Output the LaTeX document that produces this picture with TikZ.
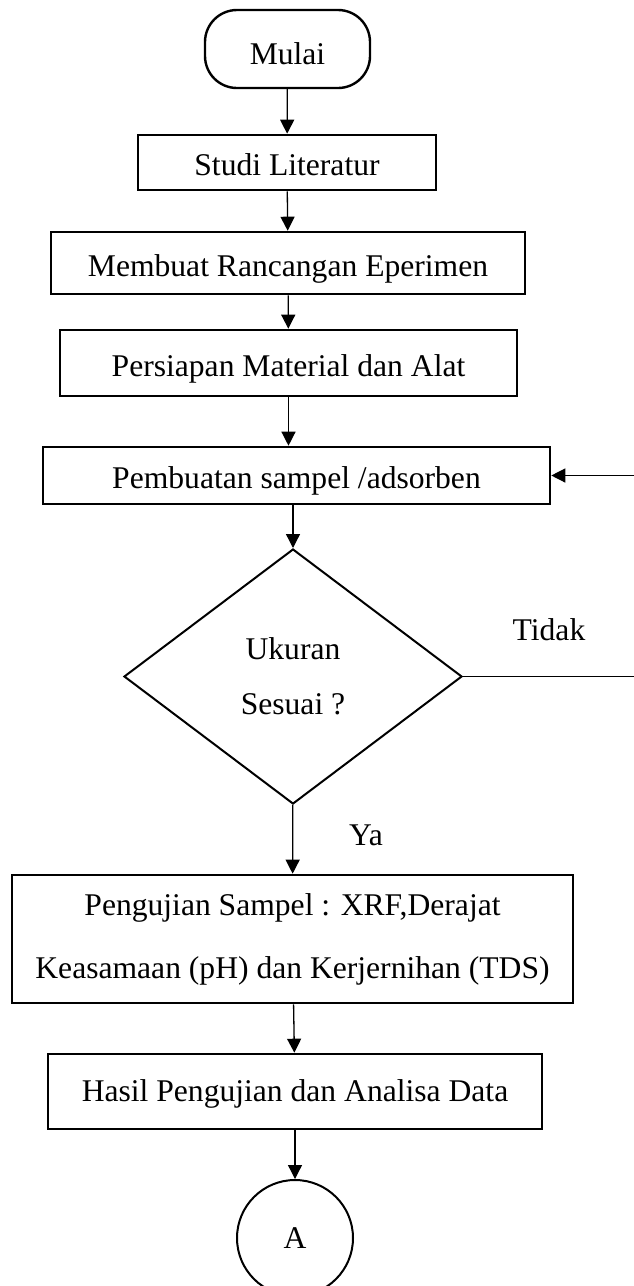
\documentclass[tikz,border=0pt]{standalone}
\usepackage{fontspec}
\setmainfont{Liberation Serif}
\usetikzlibrary{arrows.meta,shapes.geometric}

\begin{document}
\begin{tikzpicture}
[x=1pt, y=-1pt, font=\fontsize{31.6}{40}\selectfont,
 proses/.style={draw, line width=2.6pt, inner sep=0pt, text height=26pt, text depth=0pt},
 panah/.style={-{Triangle[length=14pt,width=14pt]}, line width=1.3pt}]
  \useasboundingbox (0,0) rectangle (634,1286);
  \node[proses, line width=2.4pt, rounded corners=32pt, minimum width=165pt, minimum height=78pt, text height=30pt] (mulai) at (287.5,49) {Mulai}; % start
  \node[proses, minimum width=298pt, minimum height=55pt] (studi) at (287,162.5) {Studi Literatur};
  \node[proses, minimum width=474pt, minimum height=62pt] (membuat) at (288,263) {Membuat Rancangan Eperimen};
  \node[proses, minimum width=457pt, minimum height=66pt] (persiapan) at (288.5,363) {Persiapan Material dan Alat};
  \node[proses, minimum width=507pt, minimum height=57pt] (pembuatan) at (296.5,475.5) {Pembuatan sampel /adsorben};
  \node[diamond, draw, line width=2pt, inner sep=0pt, minimum width=338pt, minimum height=255pt,
        align=center, font=\fontsize{31.6}{55}\selectfont] (ukuran) at (293,676.5) {Ukuran\\Sesuai ?};
  \node[draw, line width=2.6pt, inner sep=0pt, minimum width=561pt, minimum height=128pt,
        align=center, font=\fontsize{31.6}{63}\selectfont] (pengujian) at (292.5,939)
        {Pengujian Sampel : XRF,Derajat\\Keasamaan (pH) dan Kerjernihan (TDS)};
  \node[proses, minimum width=494pt, minimum height=75pt, text height=20pt] (hasil) at (295,1091.5) {Hasil Pengujian dan Analisa Data};
  \node[circle, draw, line width=2pt, inner sep=0pt, minimum size=116pt] (konA) at (295,1238) {A}; % connector
  \node (tidak) at (549,630) {Tidak};
  \node (ya) at (366,835) {Ya};
  \coordinate (balik) at (637,475.5);
  \draw[panah] (mulai) -- (studi);
  \draw[panah] (studi) -- (membuat);
  \draw[panah] (membuat) -- (persiapan);
  \draw[panah] (persiapan.south) -- (persiapan.south |- pembuatan.north);
  \draw[panah] (ukuran.north |- pembuatan.south) -- (ukuran.north);
  \draw[panah] (ukuran) -- (pengujian);
  \draw[panah] (pengujian) -- (hasil);
  \draw[panah] (hasil) -- (konA);
  \draw[panah] (ukuran.east) -| (balik) -- (pembuatan.east); % loop back
\end{tikzpicture}
\end{document}
